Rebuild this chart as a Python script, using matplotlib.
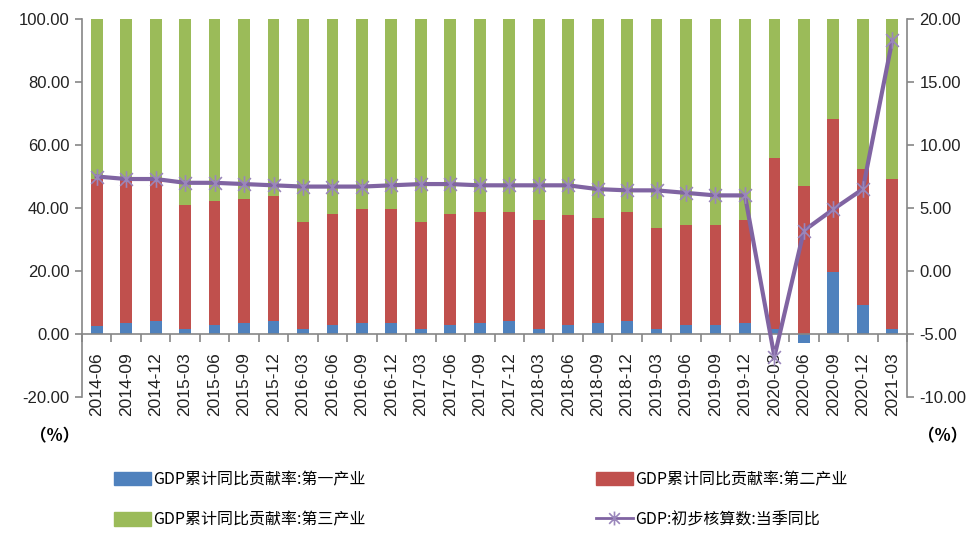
import matplotlib
matplotlib.use("Agg")
import matplotlib.pyplot as plt
import numpy as np
from matplotlib.path import Path
from matplotlib.lines import Line2D
from matplotlib.patches import Patch

plt.rcParams['font.family'] = ['Liberation Sans', 'Noto Sans CJK SC', 'DejaVu Sans']

quarters = ["2014-06", "2014-09", "2014-12", "2015-03", "2015-06", "2015-09", "2015-12",
            "2016-03", "2016-06", "2016-09", "2016-12", "2017-03", "2017-06", "2017-09",
            "2017-12", "2018-03", "2018-06", "2018-09", "2018-12", "2019-03", "2019-06",
            "2019-09", "2019-12", "2020-03", "2020-06", "2020-09", "2020-12", "2021-03"]

# contribution of each industry to cumulative GDP growth (%)
primary = [2.6, 3.4, 4.2, 1.6, 2.7, 3.4, 4.2, 1.6, 2.7, 3.4, 3.4, 1.6, 2.7, 3.4,
           4.2, 1.6, 2.7, 3.4, 4.2, 1.6, 2.7, 2.7, 3.4, 1.6, -3.0, 19.6, 9.2, 1.6]
secondary = [46.7, 45.4, 44.6, 39.5, 39.4, 39.3, 39.5, 33.9, 35.3, 36.2, 36.2, 33.9, 35.3, 35.3,
             34.5, 34.7, 35.2, 33.5, 34.5, 32.1, 31.8, 31.8, 32.9, 54.3, 46.9, 48.6, 43.3, 47.7]
tertiary = [100 - p - s for p, s in zip(primary, secondary)]

# quarterly GDP growth, year on year (%)
gdp_yoy = [7.5, 7.3, 7.3, 7.0, 7.0, 6.9, 6.8, 6.7, 6.7, 6.7, 6.8, 6.9, 6.9, 6.8,
           6.8, 6.8, 6.8, 6.5, 6.4, 6.4, 6.2, 6.0, 6.0, -6.8, 3.2, 4.9, 6.5, 18.3]

C_BLUE = "#4F81BD"
C_RED = "#C0504D"
C_GREEN = "#9BBB59"
C_PURPLE = "#8064A2"
C_AXIS = "#868686"

# Excel-style star marker: an X with a vertical stroke
star = Path([(-1, -1), (1, 1), (-1, 1), (1, -1), (0, -1.3), (0, 1.3)],
            [Path.MOVETO, Path.LINETO, Path.MOVETO, Path.LINETO, Path.MOVETO, Path.LINETO])

fig = plt.figure(figsize=(9.76, 5.33), dpi=100)
ax = fig.add_axes([82 / 976, 1 - 397 / 533, (907 - 82) / 976, (397 - 19) / 533])
ax2 = ax.twinx()

x = np.arange(len(quarters))
w = 0.4
prim = np.array(primary)
sec = np.array(secondary)
ter = np.array(tertiary)
pos_base = np.where(prim > 0, prim, 0)
ax.bar(x, prim, w, color=C_BLUE, zorder=2)
ax.bar(x, sec, w, bottom=pos_base, color=C_RED, zorder=2)
ax.bar(x, ter, w, bottom=pos_base + sec, color=C_GREEN, zorder=2)

ax.set_xlim(-0.5, len(quarters) - 0.5)
ax.set_ylim(-20, 100)
ax.set_yticks(np.arange(-20, 101, 20))
ax.set_yticklabels([f"{v:.2f}" for v in np.arange(-20, 101, 20)], fontsize=12, color="#222222")

ax2.plot(x, gdp_yoy, color=C_PURPLE, lw=3, marker=star, ms=12,
         mec="#9a86bb", mew=1.2, zorder=5)
ax2.set_ylim(-10, 20)
ax2.set_yticks(np.arange(-10, 21, 5))
ax2.set_yticklabels([f"{v:.2f}" for v in np.arange(-10, 21, 5)], fontsize=12, color="#222222")

for a in (ax, ax2):
    a.spines['top'].set_visible(False)
    for s in a.spines.values():
        s.set_color(C_AXIS)
        s.set_linewidth(1.2)
ax2.spines['bottom'].set_visible(False)
ax2.spines['left'].set_visible(False)
ax.spines['right'].set_visible(False)
ax.spines['bottom'].set_position(('data', 0))

ax.tick_params(axis='y', direction='out', length=5, color=C_AXIS, width=1.2, pad=4)
ax2.tick_params(axis='y', direction='out', length=5, color=C_AXIS, width=1.2, pad=4)

# category boundaries as ticks, labels at centers
ax.set_xticks(np.arange(-0.5, len(quarters), 1))
ax.set_xticklabels([])
ax.tick_params(axis='x', which='major', direction='out', length=6, color=C_AXIS, width=1.2)
ax.set_xticks(x, minor=True)
ax.set_xticklabels(quarters, minor=True, rotation=90, fontsize=12.5, color="#222222")
ax.tick_params(axis='x', which='minor', length=0, pad=13)

fig.text(30 / 976, 1 - 436 / 533, "（%）", fontsize=12, fontweight='bold',
         ha='left', va='center', family=['Noto Sans CJK SC'])
fig.text(918 / 976, 1 - 436 / 533, "（%）", fontsize=12, fontweight='bold',
         ha='left', va='center', family=['Noto Sans CJK SC'])

handles = [Patch(color=C_BLUE), Patch(color=C_GREEN), Patch(color=C_RED),
           Line2D([], [], color=C_PURPLE, lw=2, marker=star, ms=10, mec="#9a86bb", mew=1.2)]
labels = ["GDP累计同比贡献率:第一产业", "GDP累计同比贡献率:第三产业",
          "GDP累计同比贡献率:第二产业", "GDP:初步核算数:当季同比"]
fig.legend(handles, labels, ncol=2, loc='upper left',
           bbox_to_anchor=(100 / 976, 1 - 457 / 533), frameon=False,
           prop={'family': ['Noto Sans CJK SC'], 'size': 11.5},
           handlelength=2.3, handleheight=0.9, handletextpad=0.15,
           columnspacing=14.4, labelspacing=1.45)

fig.savefig("out.png", dpi=100)
